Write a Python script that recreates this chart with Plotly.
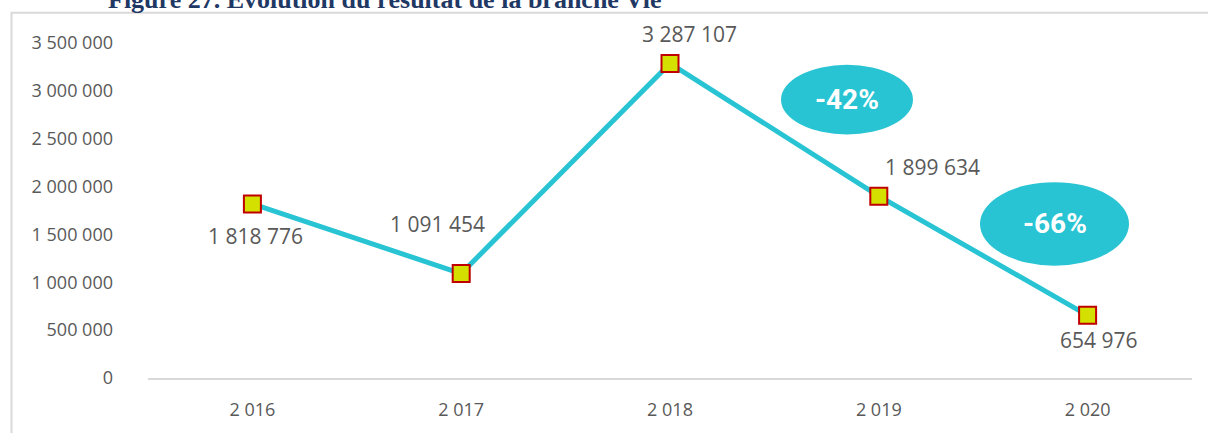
import plotly.graph_objects as go

# ---- data ----
years = ["2 016", "2 017", "2 018", "2 019", "2 020"]
values = [1818776, 1091454, 3287107, 1899634, 654976]
value_labels = ["1 818 776", "1 091 454", "3 287 107", "1 899 634", "654 976"]
y_tickvals = [0, 500000, 1000000, 1500000, 2000000, 2500000, 3000000, 3500000]
y_ticktext = ["0", "500 000", "1 000 000", "1 500 000", "2 000 000", "2 500 000", "3 000 000", "3 500 000"]
badge_texts = ["-42%", "-66%"]
title_text = "Figure 27. Evolution du résultat de la branche Vie"

# ---- layout geometry ----
W, H = 1208, 433
L, R, T, B = 148, 16, 43, 53
PW, PH = W - L - R, H - T - B

def px(x):
    return (x - L) / PW

def py(y):
    return (H - B - y) / PH

# label offsets (dx, dy) in pixels, plotly convention (dy up)
label_offsets = [(3, -32), (-24, 50), (19, 29), (54, 29), (11, -25)]
# badge ellipses: (cx, cy, rx, ry) in pixels
badges = [(847, 100, 66, 35), (1054.5, 225, 74.5, 42)]

LINE_C = "#29c4d3"
GRAY = "#595959"

fig = go.Figure()
fig.add_trace(go.Scatter(
    x=years, y=values, mode="lines+markers",
    line=dict(color=LINE_C, width=5),
    marker=dict(symbol="square", size=17, color="#d4e000",
                line=dict(color="#c00000", width=2)),
    hoverinfo="skip", showlegend=False,
))

annotations = []
for yr, v, lab, (dx, dy) in zip(years, values, value_labels, label_offsets):
    annotations.append(dict(
        x=yr, y=v, xref="x", yref="y", text=lab, showarrow=False,
        xshift=dx, yshift=dy, xanchor="center", yanchor="middle",
        font=dict(family="Open Sans", size=21, color=GRAY),
    ))

shapes = []
for (cx, cy, rx, ry), t in zip(badges, badge_texts):
    shapes.append(dict(
        type="circle", xref="paper", yref="paper",
        x0=px(cx - rx), x1=px(cx + rx), y0=py(cy + ry), y1=py(cy - ry),
        fillcolor=LINE_C, line=dict(width=0), layer="above",
    ))
    annotations.append(dict(
        x=px(cx), y=py(cy), xref="paper", yref="paper", text=t,
        showarrow=False, xanchor="center", yanchor="middle",
        font=dict(family="Roboto", size=28, color="white", weight="bold"),
    ))

# frame (left and top border)
shapes.append(dict(
    type="path", xref="paper", yref="paper",
    path=f"M {px(11.5)},{py(H + 5)} L {px(11.5)},{py(12.5)} L {px(W + 5)},{py(12.5)}",
    line=dict(color="#d9d9d9", width=2), layer="below",
))

# title (cut at top)
annotations.append(dict(
    x=px(106), y=py(16), xref="paper", yref="paper", text="<b>" + title_text + "</b>",
    showarrow=False, xanchor="left", yanchor="bottom",
    font=dict(family="Liberation Serif", size=26, color="#1f3864"),
))

fig.update_layout(
    width=W, height=H,
    margin=dict(l=L, r=R, t=T, b=B, pad=0),
    paper_bgcolor="white", plot_bgcolor="white",
    xaxis=dict(
        type="category", range=[-0.5, 4.5], showgrid=False, zeroline=False,
        showline=True, linecolor="#d9d9d9", linewidth=2,
        ticks="", tickfont=dict(family="Open Sans", size=18, color=GRAY),
        ticklabelstandoff=14, fixedrange=True,
    ),
    yaxis=dict(
        range=[0, 3500000], showgrid=False, zeroline=False, showline=False,
        tickvals=y_tickvals, ticktext=y_ticktext, ticks="",
        tickfont=dict(family="Open Sans", size=18, color=GRAY),
        ticklabelstandoff=34, fixedrange=True,
    ),
    shapes=shapes, annotations=annotations,
)

fig.write_html("out.html", config={"displayModeBar": False},
               post_script="document.body.style.margin='0';")
